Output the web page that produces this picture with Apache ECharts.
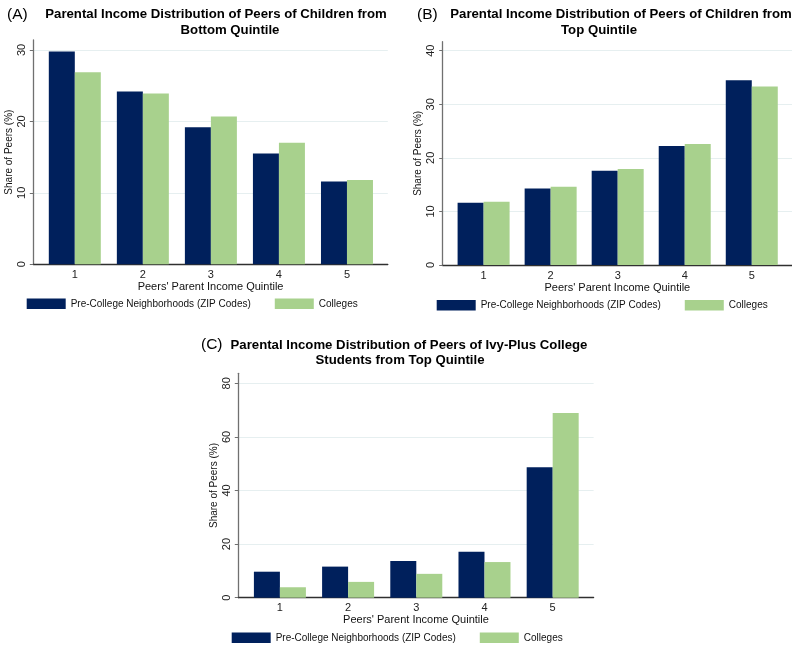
<!DOCTYPE html>
<html>
<head>
<meta charset="utf-8">
<script src="https://cdn.jsdelivr.net/npm/echarts@6/dist/echarts.min.js"></script>
<style>
  html, body { margin: 0; padding: 0; background: #ffffff; }
  #chart { width: 792px; height: 649px; }
</style>
</head>
<body>
<div id="chart"></div>
<script>
// Peers' parent income quintile (category labels)
const quintiles = ['1', '2', '3', '4', '5'];

// Series names
const seriesNames = ['Pre-College Neighborhoods (ZIP Codes)', 'Colleges'];

// (A) Peers of children from the bottom quintile, share of peers (%)
const bottomNeighborhoods = [29.8, 24.2, 19.2, 15.5, 11.6];
const bottomColleges      = [26.9, 23.9, 20.7, 17.0, 11.8];

// (B) Peers of children from the top quintile
const topNeighborhoods = [11.6, 14.3, 17.6, 22.2, 34.5];
const topColleges      = [11.8, 14.6, 17.9, 22.6, 33.3];

// (C) Peers of Ivy-Plus college students from the top quintile
const ivyNeighborhoods = [9.7, 11.6, 13.7, 17.1, 48.7];
const ivyColleges      = [3.9, 5.9, 8.9, 13.3, 68.9];

// Y-axis tick labels for each panel
const ticksA = [0, 10, 20, 30];
const ticksB = [0, 10, 20, 30, 40];
const ticksC = [0, 20, 40, 60, 80];

const NAVY = '#00205c';
const GREEN = '#a8d18d';
const FONT = '"Liberation Sans", Arial, Helvetica, sans-serif';

const xPositions = quintiles.map((q, i) => i + 1);
const toPoints = vals => vals.map((v, i) => [xPositions[i], v]);

const chart = echarts.init(document.getElementById('chart'), null, { renderer: 'canvas' });

function makeXAxis(gridIndex) {
  return {
    type: 'value', gridIndex: gridIndex, min: 0.39, max: 5.6,
    name: "Peers' Parent Income Quintile", nameLocation: 'middle', nameGap: 17,
    nameTextStyle: { fontFamily: FONT, fontSize: 11, color: '#111', verticalAlign: 'top' },
    axisLine: { show: true, lineStyle: { color: '#303030', width: 1.3 } },
    axisTick: { show: false },
    splitLine: { show: false },
    axisLabel: {
      customValues: xPositions, margin: 5,
      fontFamily: FONT, fontSize: 11, color: '#222',
      formatter: v => quintiles[Math.round(v) - 1]
    }
  };
}

function makeYAxis(gridIndex, max, ticks) {
  return {
    type: 'value', gridIndex: gridIndex, min: 0, max: max,
    name: 'Share of Peers (%)', nameLocation: 'middle', nameGap: 19,
    nameTextStyle: { fontFamily: FONT, fontSize: 10, color: '#111' },
    axisLine: { show: true, lineStyle: { color: '#707070', width: 1.3 } },
    axisTick: { show: true, length: 3.5, customValues: ticks, lineStyle: { color: '#707070', width: 1 } },
    splitLine: { show: true, lineStyle: { color: '#e6eff0', width: 1 } },
    axisLabel: {
      customValues: ticks, rotate: 90, margin: 6,
      fontFamily: FONT, fontSize: 11, color: '#222'
    }
  };
}

function makeSeries(name, color, gridIndex, vals) {
  return {
    type: 'bar', name: name,
    xAxisIndex: gridIndex, yAxisIndex: gridIndex,
    data: toPoints(vals),
    barWidth: 26, barGap: '0%',
    itemStyle: { color: color },
    emphasis: { disabled: true },
    silent: true
  };
}

function titleLine(text, cx, cy, bold) {
  return {
    text: text, left: cx, top: cy, padding: 0,
    textAlign: bold ? 'center' : 'left', textVerticalAlign: 'middle',
    textStyle: {
      fontFamily: FONT, fontSize: bold ? 13.2 : 15.5,
      fontWeight: bold ? 'bold' : 'normal', color: '#000'
    }
  };
}

function makeLegend(left, top) {
  return {
    left: left, top: top, padding: 0, orient: 'horizontal',
    data: seriesNames, icon: 'rect',
    itemWidth: 39, itemHeight: 10.5, itemGap: 24,
    selectedMode: false,
    textStyle: { fontFamily: FONT, fontSize: 10, color: '#111' }
  };
}

const option = {
  backgroundColor: '#ffffff',
  animation: false,
  title: [
    titleLine('(A)', 7, 15, false),
    titleLine('Parental Income Distribution of Peers of Children from', 216, 14, true),
    titleLine('Bottom Quintile', 230, 30.5, true),
    titleLine('(B)', 417, 15, false),
    titleLine('Parental Income Distribution of Peers of Children from', 621, 14, true),
    titleLine('Top Quintile', 599, 30.5, true),
    titleLine('(C)', 201, 345, false),
    titleLine('Parental Income Distribution of Peers of Ivy-Plus College', 409, 345, true),
    titleLine('Students from Top Quintile', 400, 360, true)
  ],
  grid: [
    { left: 33.3, top: 40, width: 354.5, height: 224.3, containLabel: false },
    { left: 442.7, top: 41.7, width: 355.3, height: 223.3, containLabel: false },
    { left: 238.3, top: 373.3, width: 355.3, height: 224.4, containLabel: false }
  ],
  xAxis: [makeXAxis(0), makeXAxis(1), makeXAxis(2)],
  yAxis: [
    makeYAxis(0, 31.4, ticksA),
    makeYAxis(1, 41.68, ticksB),
    makeYAxis(2, 83.73, ticksC)
  ],
  legend: [
    makeLegend(26.7, 298.5),
    makeLegend(436.7, 300),
    makeLegend(231.7, 632.5)
  ],
  series: [
    makeSeries(seriesNames[0], NAVY, 0, bottomNeighborhoods),
    makeSeries(seriesNames[1], GREEN, 0, bottomColleges),
    makeSeries(seriesNames[0], NAVY, 1, topNeighborhoods),
    makeSeries(seriesNames[1], GREEN, 1, topColleges),
    makeSeries(seriesNames[0], NAVY, 2, ivyNeighborhoods),
    makeSeries(seriesNames[1], GREEN, 2, ivyColleges)
  ]
};

chart.setOption(option);
</script>
</body>
</html>
